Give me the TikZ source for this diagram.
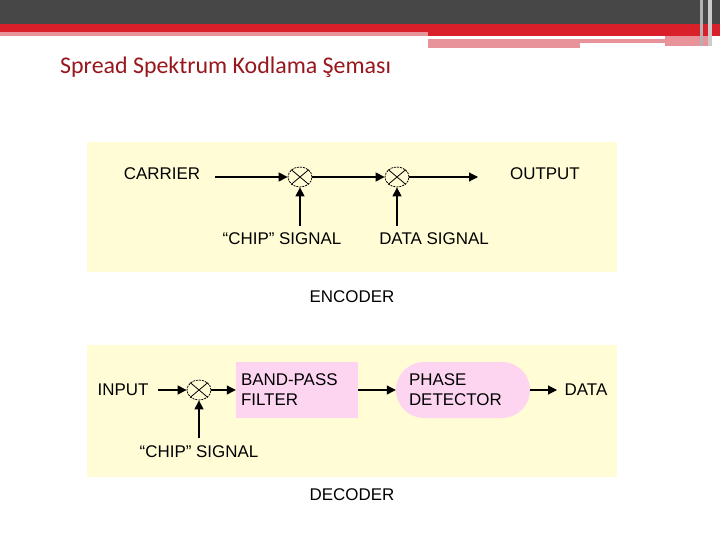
\documentclass[tikz,border=0pt]{standalone}
\usepackage{fontspec}
\setmainfont{Liberation Sans}
\newfontfamily\titlefont{Carlito}
\usetikzlibrary{arrows.meta,shapes.misc,shapes.geometric}
\definecolor{panel}{HTML}{FFFCD6}
\definecolor{pinkbox}{HTML}{FDD5F0}
\definecolor{barred}{HTML}{D9202A}
\definecolor{lightred}{HTML}{E8939A}
\definecolor{darkbar}{HTML}{474747}
\begin{document}
\begin{tikzpicture}[x=1bp,y=-1bp,
  lbl/.style={font=\fontsize{17}{19}\selectfont, inner sep=0pt},
  conn/.style={-{Triangle[length=9bp,width=9bp]}, line width=1.1bp},
  mixer/.style={draw, line width=0.8bp, dash pattern=on 2bp off 1bp, ellipse, minimum width=24bp, minimum height=20bp, inner sep=0pt},
  blk/.style={fill=pinkbox, font=\fontsize{17}{20}\selectfont, align=left, inner sep=0pt}]
\useasboundingbox (0,0) rectangle (720,540);
\fill[white] (0,0) rectangle (720,540);
% header
\fill[darkbar] (0,0) rectangle (720,24);
\fill[barred] (0,24) rectangle (720,32);
\fill[lightred] (0,32) rectangle (428,36);
\fill[barred] (428,32) rectangle (720,36);
\fill[lightred] (428,39) rectangle (665,43);
\fill[lightred] (428,43) rectangle (580,48);
\fill[lightred] (665,36) rectangle (710,46);
\fill[gray!60] (700,0) rectangle (703,46);
\fill[gray!40] (708,0) rectangle (712,46);
\node[anchor=west, inner sep=0pt, text=barred!70!black, font=\titlefont\fontsize{24}{28}\selectfont] (title) at (60,67) {Spread Spektrum Kodlama Şeması};
% encoder
\fill[panel] (87,142) rectangle (617,272);
\node[lbl] (carrier) at (162,174) {CARRIER};
\node[mixer] (m1) at (300,177) {};
\node[mixer] (m2) at (397,177) {};
\draw[line width=0.8bp] (m1.north west) -- (m1.south east) (m1.north east) -- (m1.south west);
\draw[line width=0.8bp] (m2.north west) -- (m2.south east) (m2.north east) -- (m2.south west);
\node[lbl] (output) at (545,174) {OUTPUT};
\coordinate (c0) at (215,177);
\coordinate (c3) at (478,177);
\draw[conn] (c0) -- (m1.west);
\draw[conn] (m1.east) -- (m2.west);
\draw[conn] (m2.east) -- (c3);
\coordinate (v1) at (300,226);
\coordinate (v2) at (397,226);
\draw[conn] (v1) -- (m1.south);
\draw[conn] (v2) -- (m2.south);
\node[lbl] (chip1) at (282,239) {“CHIP” SIGNAL};
\node[lbl] (data1) at (434,239) {DATA SIGNAL};
\node[lbl] (enc) at (352,297) {ENCODER};
% decoder
\fill[panel] (87,345) rectangle (617,477);
\node[lbl] (input) at (123,390) {INPUT};
\node[mixer] (m3) at (199,390) {};
\draw[line width=0.8bp] (m3.north west) -- (m3.south east) (m3.north east) -- (m3.south west);
\node[blk, minimum width=122bp, minimum height=56bp, text width=112bp] (bpf) at (297,390) {BAND-PASS\\FILTER};
\node[blk, rounded rectangle, minimum width=134bp, minimum height=56bp, text width=108bp] (pd) at (463,390) {PHASE\\DETECTOR};
\node[lbl] (data2) at (586,390) {DATA};
\coordinate (i0) at (158,390);
\coordinate (d0) at (557,390);
\draw[conn] (i0) -- (m3.west);
\draw[conn] (m3.east) -- (bpf.west);
\draw[conn] (bpf.east) -- (pd.west);
\draw[conn] (pd.east) -- (d0);
\coordinate (v3) at (199,438);
\draw[conn] (v3) -- (m3.south);
\node[lbl] (chip2) at (199,452) {“CHIP” SIGNAL};
\node[lbl] (dec) at (352,495) {DECODER};
\end{tikzpicture}
\end{document}
